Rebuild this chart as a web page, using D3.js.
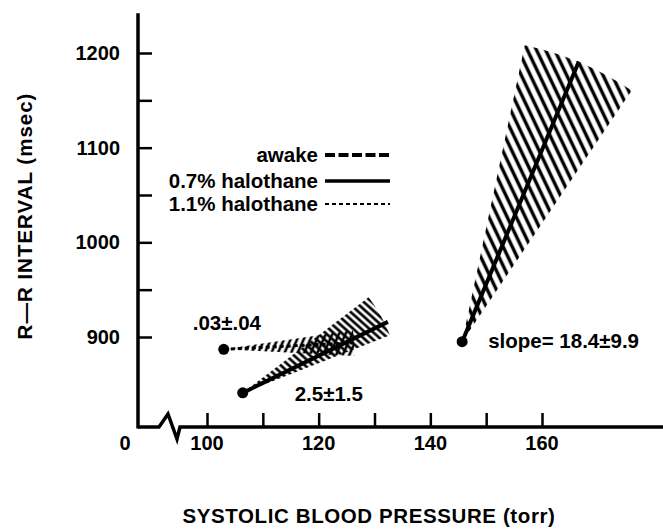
<!DOCTYPE html>
<html>
<head>
<meta charset="utf-8">
<script src="https://cdn.jsdelivr.net/npm/d3@7"></script>
<style>
  body { margin: 0; background: #fff; }
  text { font-family: "Liberation Sans", Arial, sans-serif; font-weight: bold; fill: #000; }
</style>
</head>
<body>
<script>
// axis ticks
const bpTicks = [100, 110, 120, 130, 140, 150, 160];
const bpLabels = [100, 120, 140, 160];
const rrTicks = [900, 950, 1000, 1050, 1100, 1150, 1200];
const rrLabels = [900, 1000, 1100, 1200];

// regression lines (torr, msec)
const groups = ["awake", "0.7% halothane", "1.1% halothane"];
const startBP = [103.0, 106.4, 145.7];
const startRR = [887, 841, 895];
const endBP = [126.5, 132.4, 166.6];
const endRR = [894, 916, 1191];
// edges of the shaded fans
const hiBP = [126.0, 128.5, 157.0];
const hiRR = [907, 940, 1211];
const loBP = [126.5, 133.3, 175.8];
const loRR = [880, 903, 1158];
const slopeText = [".03±.04", "2.5±1.5", "slope= 18.4±9.9"];

const width = 663, height = 529;

const x = d3.scaleLinear().domain([100, 160]).range([207, 542]);
const y = d3.scaleLinear().domain([900, 1200]).range([337, 53]);
const axisX = 138, axisY = 427;

const svg = d3.select("body").append("svg")
  .attr("width", width)
  .attr("height", height);

const defs = svg.append("defs");

// hatch patterns: vertical lines turned by the angle
function hatch(id, angle, period, w) {
  const p = defs.append("pattern")
    .attr("id", id)
    .attr("patternUnits", "userSpaceOnUse")
    .attr("width", period)
    .attr("height", period)
    .attr("patternTransform", `rotate(${angle})`);
  p.append("line")
    .attr("x1", period / 2).attr("y1", -1)
    .attr("x2", period / 2).attr("y2", period + 1)
    .attr("stroke", "#000")
    .attr("stroke-width", w);
}
hatch("h0", 24, 6, 2.6);
hatch("h1", -48, 5.4, 2.7);
hatch("h2", -25.5, 8.2, 3.4);

// shaded fans, one sector per group centred on the first point
const arc = d3.arc().innerRadius(0);
groups.forEach((g, i) => {
  const ax = x(startBP[i]), ay = y(startRR[i]);
  const hx = x(hiBP[i]) - ax, hy = y(hiRR[i]) - ay;
  const lx = x(loBP[i]) - ax, ly = y(loRR[i]) - ay;
  const r = (Math.hypot(hx, hy) + Math.hypot(lx, ly)) / 2;
  svg.append("path")
    .attr("transform", `translate(${ax},${ay})`)
    .attr("d", arc({ outerRadius: r, startAngle: Math.atan2(hx, -hy), endAngle: Math.atan2(lx, -ly) }))
    .attr("fill", `url(#h${i})`);
});

// lines
const line = d3.line().x(d => x(d[0])).y(d => y(d[1]));
const lineStyle = [
  { w: 3, dash: "4 3" },
  { w: 4, dash: null },
  { w: 4, dash: null }
];
groups.forEach((g, i) => {
  svg.append("path")
    .attr("d", line([[startBP[i], startRR[i]], [endBP[i], endRR[i]]]))
    .attr("stroke", "#000")
    .attr("stroke-width", lineStyle[i].w)
    .attr("stroke-dasharray", lineStyle[i].dash)
    .attr("fill", "none");
});

svg.selectAll("circle.pt")
  .data(groups)
  .enter()
  .append("circle")
  .attr("class", "pt")
  .attr("cx", (d, i) => x(startBP[i]))
  .attr("cy", (d, i) => y(startRR[i]))
  .attr("r", 5.5)
  .attr("fill", "#000");

// slope labels, placed next to each starting point
const labelOffset = [[-31, -19], [52, 8], [26, 6]];
svg.selectAll("text.slope")
  .data(slopeText)
  .enter()
  .append("text")
  .attr("class", "slope")
  .attr("x", (d, i) => x(startBP[i]) + labelOffset[i][0])
  .attr("y", (d, i) => y(startRR[i]) + labelOffset[i][1])
  .style("font-size", "20.5px")
  .text(d => d);

// y axis
svg.append("line")
  .attr("x1", axisX).attr("x2", axisX)
  .attr("y1", y(1242)).attr("y2", axisY + 1.5)
  .attr("stroke", "#000").attr("stroke-width", 3.5);

const yAxis = svg.append("g")
  .attr("transform", `translate(${axisX},0)`)
  .call(d3.axisRight(y).tickValues(rrTicks).tickSize(14).tickFormat(""));
yAxis.select(".domain").remove();
yAxis.selectAll("line").attr("stroke-width", 2.5);

svg.selectAll("text.ylab")
  .data(rrLabels)
  .enter()
  .append("text")
  .attr("class", "ylab")
  .attr("x", 120)
  .attr("y", d => y(d) + 7)
  .attr("text-anchor", "end")
  .style("font-size", "20px")
  .text(d => d);

// x axis with the break
svg.append("path")
  .attr("d", `M${axisX},${axisY} H159 L168,414 L177,439 L180,${axisY} H${width}`)
  .attr("stroke", "#000").attr("stroke-width", 3.5)
  .attr("fill", "none")
  .attr("stroke-linejoin", "miter");

const xAxis = svg.append("g")
  .attr("transform", `translate(0,${axisY})`)
  .call(d3.axisTop(x).tickValues(bpTicks).tickSize(14).tickFormat(""));
xAxis.select(".domain").remove();
xAxis.selectAll("line").attr("stroke-width", 2.5);

svg.selectAll("text.xlab")
  .data(bpLabels)
  .enter()
  .append("text")
  .attr("class", "xlab")
  .attr("x", d => x(d))
  .attr("y", 450)
  .attr("text-anchor", "middle")
  .style("font-size", "20px")
  .text(d => d);

svg.append("text")
  .attr("x", 125).attr("y", 450)
  .attr("text-anchor", "middle")
  .style("font-size", "20px")
  .text("0");

// axis titles
svg.append("text")
  .attr("x", 369).attr("y", 523)
  .attr("text-anchor", "middle")
  .style("font-size", "20.5px")
  .style("letter-spacing", "0.6px")
  .text("SYSTOLIC BLOOD PRESSURE (torr)");

svg.append("text")
  .attr("transform", "translate(32,216) rotate(-90)")
  .attr("text-anchor", "middle")
  .style("font-size", "20.5px")
  .style("letter-spacing", "1px")
  .text("R—R  INTERVAL (msec)");

// legend
const legendY = [155, 181, 204];
const legendStyle = [
  { w: 4, dash: "10 3.5" },
  { w: 3.5, dash: null },
  { w: 2, dash: "4 3" }
];
const legend = svg.selectAll("g.legend")
  .data(groups)
  .enter()
  .append("g")
  .attr("class", "legend")
  .attr("transform", (d, i) => `translate(0,${legendY[i]})`);

legend.append("text")
  .attr("x", 318)
  .attr("y", 7)
  .attr("text-anchor", "end")
  .style("font-size", "20.5px")
  .text(d => d);

legend.append("line")
  .attr("x1", 325).attr("x2", 390)
  .attr("y1", 0).attr("y2", 0)
  .attr("stroke", "#000")
  .attr("stroke-width", (d, i) => legendStyle[i].w)
  .attr("stroke-dasharray", (d, i) => legendStyle[i].dash);
</script>
</body>
</html>
